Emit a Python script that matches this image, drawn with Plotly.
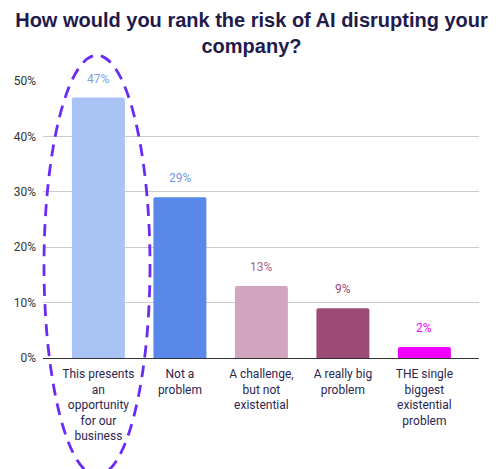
import plotly.graph_objects as go

categories = ["This presents<br>an<br>opportunity<br>for our<br>business",
              "Not a<br>problem",
              "A challenge,<br>but not<br>existential",
              "A really big<br>problem",
              "THE single<br>biggest<br>existential<br>problem"]
values = [0.47, 0.29, 0.13, 0.09, 0.02]
value_labels = ["47%", "29%", "13%", "9%", "2%"]
bar_colors = ["#a8c3f4", "#5a87ea", "#d1a5bd", "#9c4b77", "#f200ff"]
label_colors = ["#7c9ee6", "#6f97ee", "#a8668c", "#9c4b77", "#f200ff"]
y_ticks = [0, 0.1, 0.2, 0.3, 0.4, 0.5]

fig = go.Figure()
fig.add_trace(go.Bar(
    x=list(range(len(categories))), y=values,
    marker=dict(color=bar_colors, line=dict(width=0), cornerradius=2),
    width=0.65, hoverinfo="skip",
))

for i, (v, t, c) in enumerate(zip(values, value_labels, label_colors)):
    fig.add_annotation(x=i, y=v, text=t, showarrow=False, yshift=19,
                       yanchor="middle", font=dict(family="Roboto", size=12, color=c))

# dashed ellipse highlighting the first bar
fig.add_shape(type="circle", xref="paper", yref="paper",
              x0=(44 - 43) / 436, x1=(150 - 43) / 436,
              y0=(358.3 - 476) / 277.6, y1=(358.3 - 55) / 277.6,
              line=dict(color="#6a2cf5", width=2.8, dash="12px,8px"), layer="above")

fig.update_layout(
    width=503, height=469,
    margin=dict(l=43, r=24, t=80.7, b=110.7, autoexpand=False),
    plot_bgcolor="white", paper_bgcolor="white",
    showlegend=False,
    title=dict(text="How would you rank the risk of AI disrupting your<br>company?",
               x=0.5, xanchor="center", y=0.943, yanchor="top",
               font=dict(family="Liberation Sans", size=20, color="#211a4a", weight="bold")),
    xaxis=dict(range=[-0.68, 4.67], tickmode="array", automargin=False,
               tickvals=list(range(len(categories))), ticktext=categories,
               showgrid=False, zeroline=False, showline=False, ticks="",
               ticklabelstandoff=7,
               tickfont=dict(family="Roboto", size=12, color="#2b2650")),
    yaxis=dict(range=[0, 0.5], tickvals=y_ticks, tickformat=".0%", automargin=False,
               showgrid=True, gridcolor="#cccccc", gridwidth=1,
               zeroline=True, zerolinecolor="#333333", zerolinewidth=1.3,
               showline=False, ticks="", ticklabelstandoff=6,
               tickfont=dict(family="Roboto", size=12, color="#333333")),
)

fig.write_html("out.html", config={"displayModeBar": False},
               post_script="document.body.style.margin='0';document.body.style.overflow='hidden';")
